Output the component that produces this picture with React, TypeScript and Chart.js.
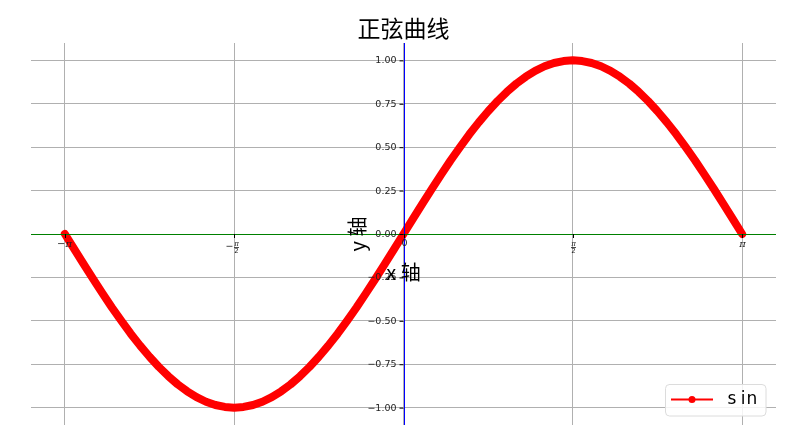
import React, { useEffect, useRef } from "react";
import { Chart, registerables } from "chart.js";

Chart.register(...registerables);

const TITLE = "正弦曲线";
const X_LABEL = "x 轴";
const Y_LABEL = "y 轴";
const SERIES_NAME = "sin";

// x in degrees (−180° … 180°  ↔  −π … π)
const xDeg = [
  -180, -175, -170, -165, -160, -155, -150, -145, -140, -135, -130, -125, -120, -115, -110, -105, -100, -95,
  -90, -85, -80, -75, -70, -65, -60, -55, -50, -45, -40, -35, -30, -25, -20, -15, -10, -5,
  0, 5, 10, 15, 20, 25, 30, 35, 40, 45, 50, 55, 60, 65, 70, 75, 80, 85,
  90, 95, 100, 105, 110, 115, 120, 125, 130, 135, 140, 145, 150, 155, 160, 165, 170, 175, 180,
];

const sinVals = [
  0, -0.087, -0.174, -0.259, -0.342, -0.423, -0.5, -0.574, -0.643, -0.707, -0.766, -0.819, -0.866, -0.906, -0.94, -0.966, -0.985, -0.996,
  -1, -0.996, -0.985, -0.966, -0.94, -0.906, -0.866, -0.819, -0.766, -0.707, -0.643, -0.574, -0.5, -0.423, -0.342, -0.259, -0.174, -0.087,
  0, 0.087, 0.174, 0.259, 0.342, 0.423, 0.5, 0.574, 0.643, 0.707, 0.766, 0.819, 0.866, 0.906, 0.94, 0.966, 0.985, 0.996,
  1, 0.996, 0.985, 0.966, 0.94, 0.906, 0.866, 0.819, 0.766, 0.707, 0.643, 0.574, 0.5, 0.423, 0.342, 0.259, 0.174, 0.087, 0,
];

const xTickVals = [-180, -90, 0, 90, 180];
// [sign, numerator, denominator] — "" denominator means no fraction
const xTickLabels = [
  ["−", "π", ""],
  ["−", "π", "2"],
  ["", "0", ""],
  ["", "π", "2"],
  ["", "π", ""],
];
const yTickVals = [-1, -0.75, -0.5, -0.25, 0, 0.25, 0.5, 0.75, 1];
const yTickLabels = ["−1.00", "−0.75", "−0.50", "−0.25", "0.00", "0.25", "0.50", "0.75", "1.00"];

const X_MIN = -198;
const X_MAX = 198;
const Y_MIN = -1.1;
const Y_MAX = 1.1;

const RED = "#ff0000";
const CJK = '"Noto Sans CJK SC", "DejaVu Sans", sans-serif';

const overlay = {
  id: "overlay",
  afterDatasetsDraw(chart: any) {
    const { ctx, chartArea, scales } = chart;
    const xs = scales.x;
    const ys = scales.y;
    const x0 = xs.getPixelForValue(0);
    const y0 = ys.getPixelForValue(0);
    ctx.save();
    // spines
    ctx.lineWidth = 1;
    ctx.strokeStyle = "green";
    ctx.beginPath();
    ctx.moveTo(chartArea.left, y0 + 0.5);
    ctx.lineTo(chartArea.right, y0 + 0.5);
    ctx.stroke();
    ctx.strokeStyle = "blue";
    ctx.beginPath();
    ctx.moveTo(Math.round(x0) + 0.5, chartArea.top);
    ctx.lineTo(Math.round(x0) + 0.5, chartArea.bottom);
    ctx.stroke();

    // y ticks
    ctx.strokeStyle = "#000";
    ctx.fillStyle = "#222";
    ctx.font = '9.5px "DejaVu Sans", sans-serif';
    ctx.textAlign = "right";
    ctx.textBaseline = "middle";
    yTickVals.forEach((v, i) => {
      const py = ys.getPixelForValue(v);
      ctx.beginPath();
      ctx.moveTo(x0 - 4, py + 0.5);
      ctx.lineTo(x0, py + 0.5);
      ctx.stroke();
      ctx.fillText(yTickLabels[i], x0 - 7, py + 0.5);
    });

    // x ticks
    xTickVals.forEach((v, i) => {
      const px = Math.round(xs.getPixelForValue(v)) + 0.5;
      ctx.beginPath();
      ctx.moveTo(px, y0);
      ctx.lineTo(px, y0 + 4);
      ctx.stroke();
      const [sign, num, den] = xTickLabels[i];
      ctx.textBaseline = "middle";
      if (!den) {
        ctx.font = num === "π" ? 'italic 10px "DejaVu Serif", serif' : '9.5px "DejaVu Sans", sans-serif';
        ctx.textAlign = "center";
        const text = sign + num;
        ctx.fillText(text, px - (sign ? 1 : 0), y0 + 10);
      } else {
        ctx.font = 'italic 7px "DejaVu Serif", serif';
        ctx.textAlign = "center";
        const fx = px + (sign ? 2 : 0);
        ctx.fillText(num, fx, y0 + 10);
        ctx.fillRect(fx - 2.5, y0 + 13, 5, 0.8);
        ctx.font = '7px "DejaVu Sans", sans-serif';
        ctx.fillText(den, fx, y0 + 17);
        if (sign) {
          ctx.font = '9.5px "DejaVu Sans", sans-serif';
          ctx.textAlign = "right";
          ctx.fillText(sign, fx - 3, y0 + 13);
        }
      }
    });

    // axis labels
    ctx.fillStyle = "#000";
    ctx.font = `20px ${CJK}`;
    ctx.textAlign = "center";
    ctx.textBaseline = "middle";
    ctx.fillText(X_LABEL, x0, y0 + 38);
    ctx.save();
    ctx.translate(x0 - 46, y0);
    ctx.rotate(-Math.PI / 2);
    ctx.fillText(Y_LABEL, 0, 0);
    ctx.restore();

    // title
    ctx.font = `23px ${CJK}`;
    ctx.fillText(TITLE, (chartArea.left + chartArea.right) / 2, 28);

    // legend
    const bx = 665, by = 384, bw = 101, bh = 32, r = 4;
    ctx.fillStyle = "rgba(255,255,255,0.85)";
    ctx.strokeStyle = "#dcdcdc";
    ctx.lineWidth = 1;
    ctx.beginPath();
    ctx.moveTo(bx + r, by + 0.5);
    ctx.arcTo(bx + bw, by + 0.5, bx + bw, by + bh, r);
    ctx.arcTo(bx + bw, by + bh, bx, by + bh, r);
    ctx.arcTo(bx + 0.5, by + bh, bx + 0.5, by, r);
    ctx.arcTo(bx + 0.5, by + 0.5, bx + bw, by + 0.5, r);
    ctx.closePath();
    ctx.fill();
    ctx.stroke();
    ctx.strokeStyle = RED;
    ctx.lineWidth = 2;
    ctx.beginPath();
    ctx.moveTo(671, 399.5);
    ctx.lineTo(713, 399.5);
    ctx.stroke();
    ctx.fillStyle = RED;
    ctx.beginPath();
    ctx.arc(692, 399.5, 3.5, 0, Math.PI * 2);
    ctx.fill();
    ctx.fillStyle = "#000";
    ctx.font = '17px "DejaVu Sans", sans-serif';
    ctx.textAlign = "center";
    ctx.textBaseline = "middle";
    const centers = [732, 743, 752];
    SERIES_NAME.split("").forEach((ch, i) => ctx.fillText(ch, centers[i] ?? 752 + (i - 2) * 10, 400));
    ctx.restore();
  },
};

export default function App() {
  const ref = useRef<HTMLCanvasElement>(null);
  useEffect(() => {
    document.body.style.margin = "0";
    const chart = new Chart(ref.current!, {
      type: "line",
      data: {
        datasets: [
          {
            label: SERIES_NAME,
            data: xDeg.map((x, i) => ({ x, y: sinVals[i] })),
            borderColor: RED,
            backgroundColor: RED,
            borderWidth: 8,
            borderCapStyle: "round",
            borderJoinStyle: "round",
            pointRadius: 0,
            tension: 0,
          },
        ],
      },
      plugins: [overlay],
      options: {
        animation: false,
        responsive: false,
        devicePixelRatio: 1,
        layout: { padding: { left: 31, right: 33, top: 43, bottom: 21 } },
        plugins: { legend: { display: false }, tooltip: { enabled: false }, title: { display: false } },
        scales: {
          x: {
            type: "linear",
            min: X_MIN,
            max: X_MAX,
            afterBuildTicks: (s: any) => {
              s.ticks = xTickVals.map((value) => ({ value }));
            },
            ticks: { display: false },
            grid: { color: "#b0b0b0", lineWidth: 1, drawTicks: false },
            border: { display: false },
          },
          y: {
            type: "linear",
            min: Y_MIN,
            max: Y_MAX,
            afterBuildTicks: (s: any) => {
              s.ticks = yTickVals.map((value) => ({ value }));
            },
            ticks: { display: false },
            grid: { color: "#b0b0b0", lineWidth: 1, drawTicks: false },
            border: { display: false },
          },
        },
      },
    } as any);
    return () => chart.destroy();
  }, []);
  return (
    <div style={{ position: "fixed", left: 0, top: 0, width: 809, height: 446, background: "#fff" }}>
      <canvas ref={ref} width={809} height={446} />
    </div>
  );
}
